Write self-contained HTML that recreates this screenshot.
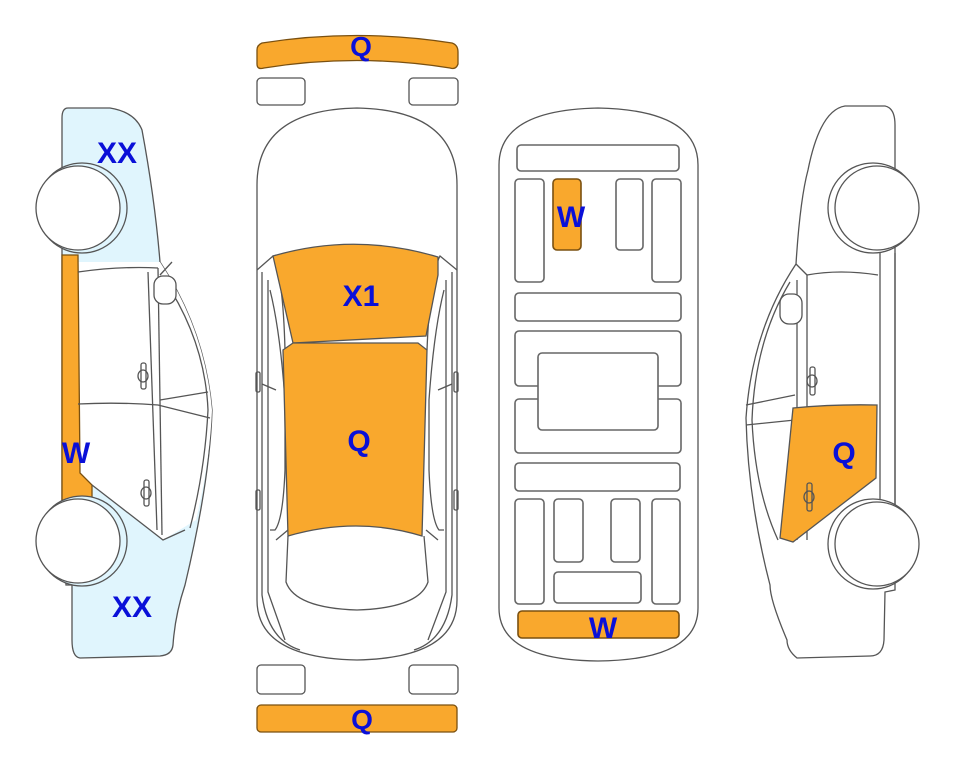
<!DOCTYPE html>
<html><head><meta charset="utf-8"><style>
html,body{margin:0;padding:0;background:#fff;}
svg{display:block;}
text{font-family:"Liberation Sans",Arial,sans-serif;font-weight:bold;fill:#0a10d8;text-anchor:middle;}
</style></head><body>
<svg width="963" height="768" viewBox="0 0 963 768" xmlns="http://www.w3.org/2000/svg">
<g stroke="#555" stroke-width="1.3" fill="none">

<!-- LEFT CAR -->
<path d="M68,108 L110,108 Q135,112 142,130 Q155,200 160,262 Q205,330 212,410 Q210,480 185,585 Q175,615 173,645 Q172,655 160,656 L80,658 Q72,657 72,640 L72,585 L66,585 L62,500 L62,250 L62,118 Q62,108 68,108 Z" fill="#e0f5fd"/>
<path d="M78,262 L160,262 Q205,330 212,410 Q210,460 196,520 L163,540 L92,485 L80,473 Z" fill="#fff" stroke="none"/>
<path d="M62,255 L78,255 L80,473 L92,485 L92,500 L62,500 Z" fill="#f9a82d" stroke="#7a5010"/>
<path d="M78,272 Q120,266 158,268"/>
<path d="M78,404 Q120,402 158,405 L210,418"/>
<path d="M160,400 L208,392"/>
<path d="M148,272 L157,530"/>
<path d="M158,268 L162,535"/>
<path d="M92,485 L163,540 L185,530"/>
<path d="M163,278 Q205,340 208,410 Q205,470 190,528"/>
<path d="M172,262 L160,275"/>
<rect x="154" y="276" width="22" height="28" rx="9" fill="#fff"/>
<rect x="141" y="363" width="5" height="26" rx="2"/><ellipse cx="143" cy="376" rx="5" ry="6"/>
<rect x="144" y="480" width="5" height="26" rx="2"/><ellipse cx="146" cy="493" rx="5" ry="6"/>
<circle cx="82" cy="208" r="45" fill="#e0f5fd"/>
<circle cx="78" cy="208" r="42" fill="#fff"/>
<circle cx="82" cy="541" r="45" fill="#e0f5fd"/>
<circle cx="78" cy="541" r="42" fill="#fff"/>

<!-- TOP CAR -->
<path d="M262,43 Q357,28 452,43 Q458,45 458,52 L458,64 Q456,70 450,68 Q357,53 264,68 Q257,70 257,64 L257,50 Q257,45 262,43 Z" fill="#f9a82d" stroke="#7a5010"/>
<rect x="257" y="78" width="48" height="27" rx="4"/>
<rect x="409" y="78" width="49" height="27" rx="4"/>
<rect x="257" y="665" width="48" height="29" rx="4"/>
<rect x="409" y="665" width="49" height="29" rx="4"/>
<rect x="257" y="705" width="200" height="27" rx="4" fill="#f9a82d" stroke="#7a5010"/>

<path d="M257,185 Q257,110 357,108 Q457,110 457,185 L457,600 Q457,658 357,660 Q257,658 257,600 Z" fill="#fff"/>
<path d="M257,270 L273,256 Q283,275 285,350"/>
<path d="M457,270 L440,256 Q430,275 427,350"/>
<path d="M262,272 L262,595 Q268,640 300,650"/>
<path d="M268,280 L268,592 L285,640"/>
<path d="M452,272 L452,595 Q446,640 414,650"/>
<path d="M446,280 L446,592 L428,640"/>
<path d="M270,290 Q280,330 285,400 L285,470 Q283,520 275,530 L270,530"/>
<path d="M444,290 Q434,330 429,400 L429,470 Q431,520 439,530 L444,530"/>
<path d="M276,540 L288,530 M438,540 L426,530"/>
<path d="M262,384 L276,390 M452,384 L438,390"/>
<rect x="256" y="372" width="4" height="20" rx="1.5"/>
<rect x="256" y="490" width="4" height="20" rx="1.5"/>
<rect x="454" y="372" width="4" height="20" rx="1.5"/>
<rect x="454" y="490" width="4" height="20" rx="1.5"/>
<path d="M288,536 L286,582 Q295,608 357,610 Q419,608 428,582 L424,536"/>
<path d="M273,256 Q355,232 438,257 L438,275 L426,336 L293,343 Z" fill="#f9a82d" stroke="#555"/>
<path d="M283,350 L293,343 L418,343 L427,350 L422,536 Q357,516 288,536 Z" fill="#f9a82d" stroke="#555"/>

<!-- UNDERBODY -->
<path d="M499,165 Q499,110 598,108 Q698,110 698,165 L698,608 Q698,660 598,661 Q499,660 499,608 Z" fill="#fff"/>
<g stroke="#666" stroke-width="1.6">
<rect x="517" y="145" width="162" height="26" rx="4"/>
<rect x="515" y="179" width="29" height="103" rx="4"/>
<rect x="553" y="179" width="28" height="71" rx="4" fill="#f9a82d" stroke="#7a5010"/>
<rect x="616" y="179" width="27" height="71" rx="4"/>
<rect x="652" y="179" width="29" height="103" rx="4"/>
<rect x="515" y="293" width="166" height="28" rx="4"/>
<rect x="515" y="331" width="166" height="55" rx="4"/>
<rect x="515" y="399" width="166" height="54" rx="4"/>
<rect x="538" y="353" width="120" height="77" rx="4" fill="#fff"/>
<rect x="515" y="463" width="165" height="28" rx="4"/>
<rect x="515" y="499" width="29" height="105" rx="4"/>
<rect x="554" y="499" width="29" height="63" rx="4"/>
<rect x="611" y="499" width="29" height="63" rx="4"/>
<rect x="652" y="499" width="28" height="105" rx="4"/>
<rect x="554" y="572" width="87" height="31" rx="4"/>
<rect x="518" y="611" width="161" height="27" rx="4" fill="#f9a82d" stroke="#7a5010"/>
</g>

<!-- RIGHT CAR -->
<path d="M845,106 L885,106 Q895,108 895,125 L895,590 L885,592 L884,640 Q883,656 870,656 L797,658 Q787,650 787,640 Q770,600 770,585 Q748,500 746,418 Q752,330 796,264 Q800,200 808,170 Q820,110 845,106 Z" fill="#fff"/>
<path d="M880,253 L880,505 M895,253 L895,505"/>
<path d="M807,275 Q840,269 878,275"/>
<path d="M807,275 L807,540 M797,280 L797,540"/>
<path d="M796,264 L807,275"/>
<path d="M790,282 Q755,340 752,420 Q755,490 778,540"/>
<path d="M746,405 L795,395 M746,425 L795,420"/>
<rect x="780" y="294" width="22" height="30" rx="9" fill="#fff"/>
<path d="M793,408 Q835,404 877,405 L876,478 L793,542 L780,538 Z" fill="#f9a82d" stroke="#555"/>
<rect x="810" y="367" width="5" height="28" rx="2"/><ellipse cx="812" cy="381" rx="5" ry="6"/>
<rect x="807" y="483" width="5" height="28" rx="2"/><ellipse cx="809" cy="497" rx="5" ry="6"/>
<circle cx="873" cy="208" r="45" fill="#fff"/>
<circle cx="877" cy="208" r="42" fill="#fff"/>
<circle cx="873" cy="544" r="45" fill="#fff"/>
<circle cx="877" cy="544" r="42" fill="#fff"/>
</g>

<text x="117" y="163" font-size="30">XX</text>
<text x="132" y="617" font-size="30">XX</text>
<text x="76" y="463" font-size="30">W</text>
<text x="361" y="56" font-size="28">Q</text>
<text x="361" y="306" font-size="30">X1</text>
<text x="359" y="451" font-size="30">Q</text>
<text x="362" y="729" font-size="28">Q</text>
<text x="571" y="227" font-size="30">W</text>
<text x="603" y="638" font-size="30">W</text>
<text x="844" y="463" font-size="30">Q</text>
</svg>
</body></html>
